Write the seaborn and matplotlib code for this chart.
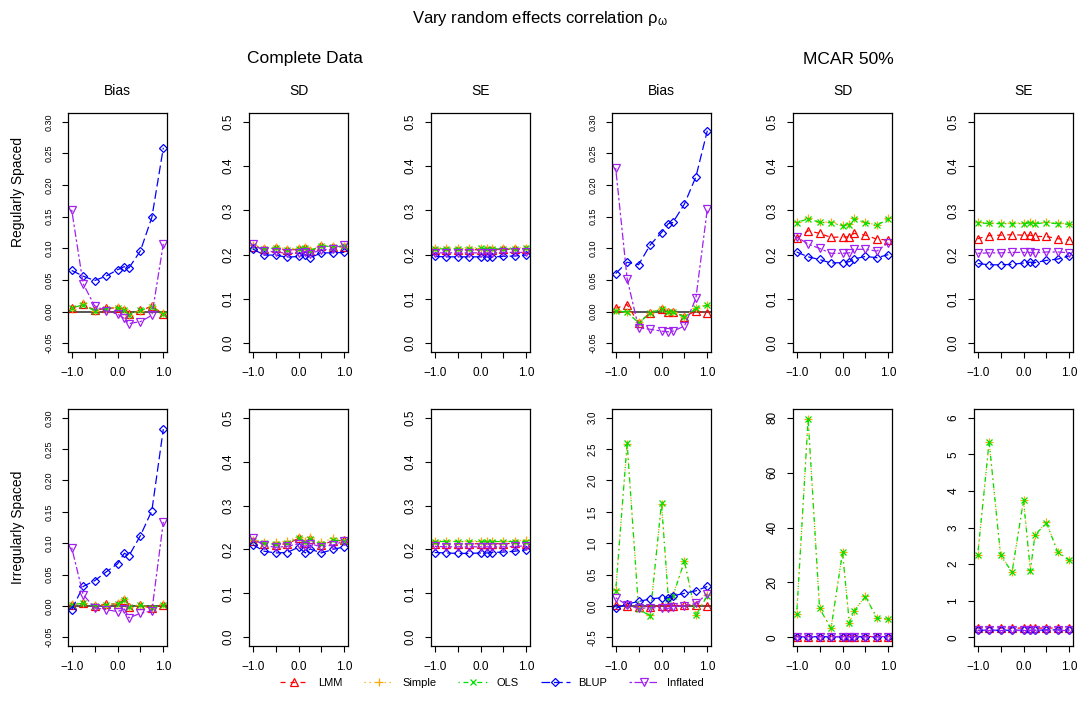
import numpy as np
import pandas as pd
import seaborn as sns
import matplotlib.pyplot as plt

# x grid: random effects correlation
rho = [-1.0, -0.75, -0.5, -0.25, 0.0, 0.15, 0.25, 0.5, 0.75, 1.0]
methods = ["LMM", "Simple", "OLS", "BLUP", "Inflated"]

# ---- Regularly spaced, complete data
reg_full_bias = {
    "LMM":      [0.005, 0.012, 0.002, 0.005, 0.006, 0.003, -0.004, 0.002, 0.008, -0.004],
    "Simple":   [0.004, 0.013, 0.001, 0.004, 0.007, 0.004, -0.005, 0.001, 0.009, -0.003],
    "OLS":      [0.005, 0.011, 0.001, 0.004, 0.006, 0.002, -0.005, 0.002, 0.007, -0.004],
    "BLUP":     [0.065, 0.056, 0.049, 0.056, 0.066, 0.071, 0.069, 0.096, 0.149, 0.259],
    "Inflated": [0.161, 0.044, 0.009, 0.001, -0.004, -0.011, -0.019, -0.016, -0.006, 0.107],
}
reg_full_sd = {
    "LMM":      [0.218, 0.212, 0.214, 0.210, 0.212, 0.215, 0.208, 0.219, 0.217, 0.218],
    "Simple":   [0.221, 0.215, 0.217, 0.213, 0.215, 0.218, 0.211, 0.222, 0.220, 0.220],
    "OLS":      [0.219, 0.213, 0.215, 0.211, 0.213, 0.216, 0.209, 0.220, 0.218, 0.219],
    "BLUP":     [0.213, 0.199, 0.199, 0.194, 0.196, 0.200, 0.193, 0.204, 0.204, 0.205],
    "Inflated": [0.224, 0.208, 0.206, 0.203, 0.203, 0.207, 0.202, 0.211, 0.212, 0.222],
}
reg_full_se = {
    "LMM":      [0.211, 0.211, 0.211, 0.211, 0.211, 0.211, 0.211, 0.212, 0.212, 0.212],
    "Simple":   [0.215, 0.215, 0.215, 0.216, 0.215, 0.215, 0.215, 0.215, 0.216, 0.215],
    "OLS":      [0.213, 0.213, 0.213, 0.213, 0.214, 0.213, 0.213, 0.213, 0.213, 0.214],
    "BLUP":     [0.196, 0.195, 0.195, 0.195, 0.195, 0.195, 0.195, 0.196, 0.197, 0.199],
    "Inflated": [0.204, 0.204, 0.204, 0.204, 0.204, 0.204, 0.204, 0.205, 0.205, 0.205],
}
# ---- Regularly spaced, MCAR 50%
reg_mcar_bias = {
    "LMM":      [0.005, 0.011, -0.018, -0.002, 0.004, 0.000, 0.000, -0.008, 0.001, -0.003],
    "Simple":   [0.002, -0.001, -0.017, -0.003, 0.005, -0.001, 0.000, -0.008, 0.006, 0.011],
    "OLS":      [0.001, -0.001, -0.018, -0.003, 0.004, -0.001, -0.001, -0.009, 0.005, 0.010],
    "BLUP":     [0.060, 0.078, 0.074, 0.105, 0.125, 0.139, 0.141, 0.170, 0.213, 0.286],
    "Inflated": [0.227, 0.052, -0.026, -0.028, -0.031, -0.032, -0.031, -0.023, 0.021, 0.162],
}
reg_mcar_sd = {
    "LMM":      [0.237, 0.254, 0.248, 0.239, 0.240, 0.240, 0.248, 0.244, 0.235, 0.233],
    "Simple":   [0.273, 0.282, 0.274, 0.273, 0.266, 0.269, 0.282, 0.273, 0.267, 0.282],
    "OLS":      [0.272, 0.281, 0.273, 0.272, 0.265, 0.268, 0.281, 0.272, 0.266, 0.281],
    "BLUP":     [0.206, 0.195, 0.189, 0.181, 0.182, 0.184, 0.190, 0.196, 0.193, 0.200],
    "Inflated": [0.240, 0.224, 0.214, 0.203, 0.203, 0.204, 0.212, 0.212, 0.208, 0.227],
}
reg_mcar_se = {
    "LMM":      [0.236, 0.243, 0.244, 0.245, 0.244, 0.244, 0.241, 0.241, 0.236, 0.233],
    "Simple":   [0.273, 0.272, 0.271, 0.271, 0.272, 0.273, 0.272, 0.273, 0.271, 0.270],
    "OLS":      [0.271, 0.271, 0.270, 0.270, 0.270, 0.272, 0.270, 0.272, 0.270, 0.269],
    "BLUP":     [0.180, 0.177, 0.177, 0.178, 0.181, 0.183, 0.182, 0.187, 0.190, 0.197],
    "Inflated": [0.203, 0.204, 0.204, 0.205, 0.205, 0.205, 0.204, 0.206, 0.206, 0.204],
}
# ---- Irregularly spaced, complete data
irr_full_bias = {
    "LMM":      [0.002, 0.004, 0.000, 0.003, 0.003, 0.010, -0.002, 0.001, -0.004, 0.002],
    "Simple":   [0.003, 0.005, 0.001, 0.002, 0.004, 0.011, -0.001, 0.002, -0.003, 0.003],
    "OLS":      [0.002, 0.004, 0.000, 0.002, 0.003, 0.009, -0.002, 0.001, -0.004, 0.002],
    "BLUP":     [-0.006, 0.031, 0.040, 0.054, 0.067, 0.084, 0.080, 0.112, 0.152, 0.282],
    "Inflated": [0.093, 0.018, -0.003, -0.006, -0.009, -0.005, -0.019, -0.012, -0.008, 0.134],
}
irr_full_sd = {
    "LMM":      [0.219, 0.213, 0.211, 0.213, 0.225, 0.215, 0.223, 0.211, 0.219, 0.221],
    "Simple":   [0.222, 0.218, 0.216, 0.219, 0.229, 0.219, 0.228, 0.216, 0.225, 0.222],
    "OLS":      [0.220, 0.214, 0.212, 0.215, 0.226, 0.216, 0.224, 0.212, 0.221, 0.220],
    "BLUP":     [0.211, 0.196, 0.192, 0.193, 0.205, 0.192, 0.201, 0.192, 0.200, 0.206],
    "Inflated": [0.225, 0.209, 0.205, 0.207, 0.213, 0.207, 0.213, 0.206, 0.210, 0.219],
}
irr_full_se = {
    "LMM":      [0.213, 0.213, 0.212, 0.213, 0.213, 0.213, 0.213, 0.213, 0.214, 0.213],
    "Simple":   [0.220, 0.220, 0.220, 0.219, 0.220, 0.220, 0.220, 0.220, 0.220, 0.221],
    "OLS":      [0.218, 0.218, 0.218, 0.218, 0.218, 0.217, 0.218, 0.218, 0.218, 0.218],
    "BLUP":     [0.193, 0.192, 0.191, 0.191, 0.192, 0.192, 0.193, 0.194, 0.196, 0.199],
    "Inflated": [0.207, 0.206, 0.206, 0.206, 0.206, 0.206, 0.206, 0.206, 0.207, 0.208],
}
# ---- Irregularly spaced, MCAR 50%
irr_mcar_bias = {
    "LMM":      [0.01, 0.00, -0.01, -0.01, 0.00, 0.00, 0.00, 0.01, 0.01, 0.00],
    "Simple":   [0.25, 2.58, -0.04, -0.15, 1.63, 0.12, 0.17, 0.72, -0.14, 0.17],
    "OLS":      [0.23, 2.60, -0.05, -0.16, 1.64, 0.11, 0.16, 0.71, -0.15, 0.16],
    "BLUP":     [-0.04, 0.03, 0.07, 0.11, 0.13, 0.13, 0.16, 0.20, 0.24, 0.31],
    "Inflated": [0.13, 0.01, -0.04, -0.03, -0.03, -0.04, -0.01, 0.00, 0.04, 0.19],
}
irr_mcar_sd = {
    "LMM":      [0.26, 0.25, 0.26, 0.25, 0.26, 0.26, 0.25, 0.26, 0.25, 0.25],
    "Simple":   [8.4, 79.6, 10.6, 3.3, 31.0, 5.3, 9.6, 14.9, 7.1, 6.8],
    "OLS":      [8.3, 79.5, 10.5, 3.2, 30.9, 5.2, 9.5, 14.8, 7.0, 6.7],
    "BLUP":     [0.20, 0.19, 0.19, 0.18, 0.18, 0.18, 0.19, 0.20, 0.19, 0.20],
    "Inflated": [0.24, 0.22, 0.21, 0.20, 0.20, 0.20, 0.21, 0.21, 0.21, 0.23],
}
irr_mcar_se = {
    "LMM":      [0.25, 0.26, 0.25, 0.25, 0.25, 0.26, 0.25, 0.25, 0.25, 0.25],
    "Simple":   [2.25, 5.33, 2.25, 1.79, 3.75, 1.83, 2.80, 3.14, 2.33, 2.11],
    "OLS":      [2.24, 5.35, 2.24, 1.78, 3.74, 1.82, 2.79, 3.13, 2.32, 2.10],
    "BLUP":     [0.19, 0.19, 0.19, 0.19, 0.19, 0.19, 0.19, 0.20, 0.20, 0.20],
    "Inflated": [0.21, 0.21, 0.21, 0.21, 0.21, 0.21, 0.21, 0.21, 0.21, 0.21],
}

panels = [
    [reg_full_bias, reg_full_sd, reg_full_se, reg_mcar_bias, reg_mcar_sd, reg_mcar_se],
    [irr_full_bias, irr_full_sd, irr_full_se, irr_mcar_bias, irr_mcar_sd, irr_mcar_se],
]

# y axis ticks / labels per panel
bias_ticks = [-0.05, 0.0, 0.05, 0.10, 0.15, 0.20, 0.25, 0.30]
bias_labels = ["-0.05", "0.00", "0.05", "0.10", "0.15", "0.20", "0.25", "0.30"]
sd_ticks = [0.0, 0.1, 0.2, 0.3, 0.4, 0.5]
sd_labels = ["0.0", "0.1", "0.2", "0.3", "0.4", "0.5"]
big_bias_ticks = [-0.5, 0.0, 0.5, 1.0, 1.5, 2.0, 2.5, 3.0]
big_bias_labels = ["-0.5", "0.0", "0.5", "1.0", "1.5", "2.0", "2.5", "3.0"]
big_sd_ticks = [0, 20, 40, 60, 80]
big_sd_labels = ["0", "20", "40", "60", "80"]
big_se_ticks = [0, 1, 2, 3, 4, 5, 6]
big_se_labels = ["0", "1", "2", "3", "4", "5", "6"]

# style per method (R base look)
colors = {"LMM": "#FF0000", "Simple": "#FFA500", "OLS": "#00E000",
          "BLUP": "#0000FF", "Inflated": "#A020F0"}
marks = {"LMM": "^", "Simple": "+", "OLS": "x", "BLUP": "D", "Inflated": "v"}
lstyles = {"LMM": (0, (4, 4)), "Simple": (0, (1, 3)), "OLS": (0, (1, 3, 4, 3)),
           "BLUP": (0, (7, 3)), "Inflated": (0, (2, 2, 6, 2))}
msizes = {"LMM": 5.5, "Simple": 6, "OLS": 5, "BLUP": 4.3, "Inflated": 5.5}

sns.set_style("ticks")
plt.rcParams['font.family'] = ['Liberation Sans', 'DejaVu Sans']
plt.rcParams['mathtext.default'] = 'regular'
plt.rcParams['text.color'] = 'black'
plt.rcParams['xtick.color'] = 'black'
plt.rcParams['ytick.color'] = 'black'

W, H = 1081, 715
fig = plt.figure(figsize=(W / 100, H / 100), dpi=100)

lefts = [68, 249, 431, 612, 793, 974]
pw = 99
rows_y = [(113, 352), (409, 646)]
col_titles = ["Bias", "SD", "SE", "Bias", "SD", "SE"]


def pad(lo, hi):
    d = (hi - lo) * 0.04
    return lo - d, hi + d


axes = []
for r in range(2):
    for c in range(6):
        top, bot = rows_y[r]
        ax = fig.add_axes([lefts[c] / W, 1 - bot / H, pw / W, (bot - top) / H])
        data = panels[r][c]
        df = pd.DataFrame({"rho": rho, **data})
        if c in (0, 3):
            ax.axhline(0, color="#555555", lw=1.4, zorder=1)
        for m in methods:
            sns.lineplot(data=df, x="rho", y=m, ax=ax, color=colors[m],
                         marker=marks[m], markersize=msizes[m],
                         markerfacecolor="none", markeredgecolor=colors[m],
                         markeredgewidth=0.9, linestyle=lstyles[m], lw=0.9,
                         estimator=None, sort=False, legend=False, label=m)
        # y axis
        if c in (0, 3) and not (r == 1 and c == 3):
            ticks, labels, fs = bias_ticks, bias_labels, 6.5
        elif r == 1 and c == 3:
            ticks, labels, fs = big_bias_ticks, big_bias_labels, 7
        elif r == 1 and c == 4:
            ticks, labels, fs = big_sd_ticks, big_sd_labels, 8.5
        elif r == 1 and c == 5:
            ticks, labels, fs = big_se_ticks, big_se_labels, 8.5
        else:
            ticks, labels, fs = sd_ticks, sd_labels, 8.5
        ax.set_ylim(*pad(ticks[0], ticks[-1]))
        ax.set_yticks(ticks)
        ax.set_yticklabels(labels, rotation=90, va="center", fontsize=fs)
        ax.set_xlim(*pad(-1, 1))
        ax.set_xticks([-1, -0.5, 0, 0.5, 1])
        ax.set_xticklabels(["\u22121.0", "", "0.0", "", "1.0"], fontsize=8.5)
        ax.set_xlabel("")
        ax.set_ylabel("")
        ax.tick_params(direction="out", length=4.5, width=0.8, color="black")
        ax.tick_params(axis="x", pad=6)
        ax.tick_params(axis="y", pad=6)
        for s in ax.spines.values():
            s.set_visible(True)
            s.set_color("black")
            s.set_linewidth(0.9)
        if r == 0:
            ax.text(0.5, 1 + (113 - 91) / (bot - top), col_titles[c],
                    transform=ax.transAxes, ha="center", va="center", fontsize=10)
        axes.append(ax)

fig.text(540 / W, 1 - 18 / H, r"Vary random effects correlation $\rho_{\omega}$",
         ha="center", va="center", fontsize=12)
fig.text(305 / W, 1 - 58 / H, "Complete Data", ha="center", va="center", fontsize=12.5)
fig.text(848 / W, 1 - 60 / H, "MCAR 50%", ha="center", va="center", fontsize=12.5)
fig.text(18 / W, 1 - 192 / H, "Regularly Spaced", rotation=90,
         ha="center", va="center", fontsize=10)
fig.text(18 / W, 1 - 527 / H, "Irregularly Spaced", rotation=90,
         ha="center", va="center", fontsize=10)

handles, labels = axes[0].get_legend_handles_labels()
fig.legend(handles[:5], labels[:5], loc="center", ncol=5,
           bbox_to_anchor=(492 / W, 1 - 683 / H), frameon=False, fontsize=8,
           handlelength=2.6, columnspacing=2.0, handletextpad=0.8)

fig.savefig("out.png", dpi=100)
